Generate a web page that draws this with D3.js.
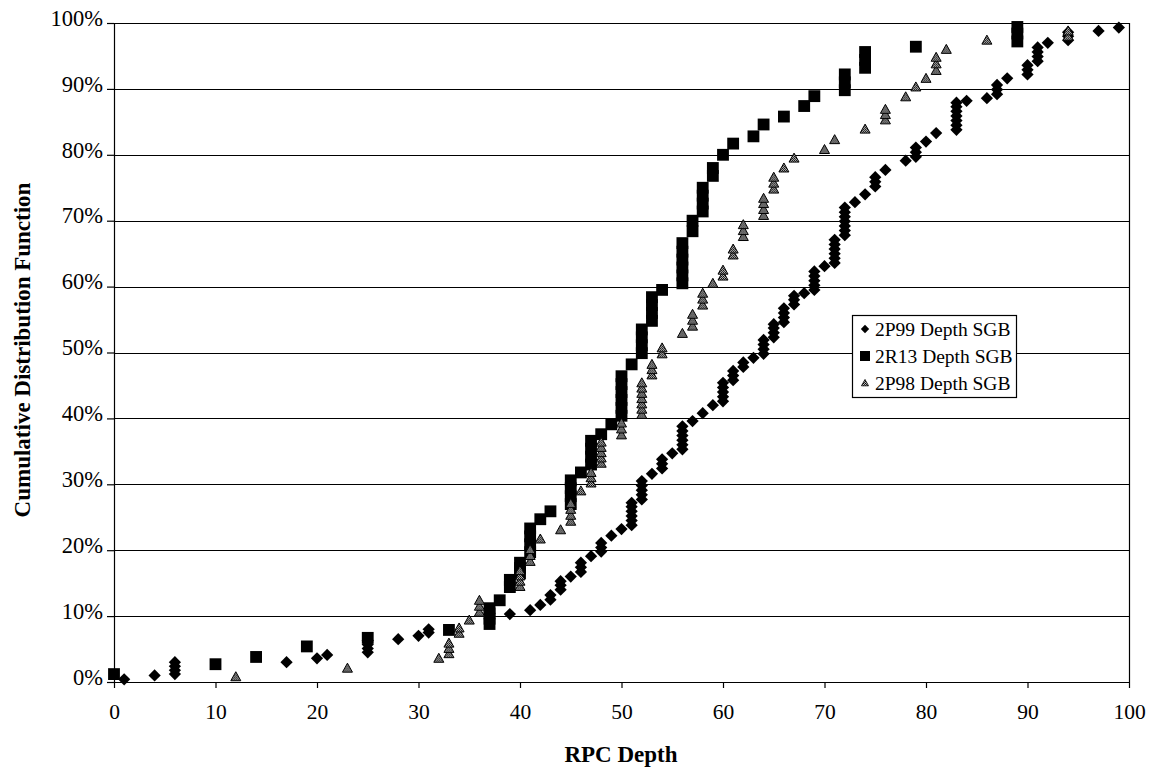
<!DOCTYPE html>
<html><head><meta charset="utf-8">
<script src="https://cdn.jsdelivr.net/npm/d3@7"></script>
<style>body{margin:0;background:#fff}svg{display:block}</style>
</head><body>
<svg id="chart" width="1155" height="772"></svg>
<script>
// ---- data ----
const xTicks = [0,10,20,30,40,50,60,70,80,90,100];
const yTicks = [0,10,20,30,40,50,60,70,80,90,100];
const xTitle = "RPC Depth";
const yTitle = "Cumulative Distribution Function";
const seriesNames = ["2P99 Depth SGB","2R13 Depth SGB","2P98 Depth SGB"];

// [RPC depth, cumulative %]
const data2P99 = [
[1,0.4],[4,1.0],[6,1.2],[6,1.8],[6,2.4],[6,3.0],
[17,3.0],[20,3.6],[21,4.1],
[25,4.5],[25,5.1],[25,5.7],[25,6.3],
[28,6.5],[30,7.0],[31,7.5],[31,8.0],
[39,10.3],[41,10.9],[42,11.7],[43,12.5],[43,13.2],
[44,14.0],[44,14.7],[44,15.3],[45,16.0],[46,16.7],[46,17.4],[46,18.1],
[47,19.1],[48,19.8],[48,20.4],[48,21.1],[49,22.2],[50,23.2],
[51,23.8],[51,24.5],[51,25.2],[51,25.9],[51,26.6],[51,27.2],
[52,27.7],[52,28.4],[52,29.1],[52,29.8],[52,30.5],
[53,31.6],[54,32.4],[54,33.1],[54,33.8],[55,34.7],
[56,35.3],[56,36.0],[56,36.7],[56,37.4],[56,38.1],[56,38.8],
[57,39.6],[58,40.8],[59,42.0],
[60,42.6],[60,43.3],[60,44.0],[60,44.7],[60,45.4],
[61,45.8],[61,46.5],[61,47.2],[62,47.8],[62,48.5],
[63,49.2],[64,49.8],[64,50.5],[64,51.2],[64,51.9],
[65,52.3],[65,53.0],[65,53.7],[65,54.3],
[66,54.6],[66,55.3],[66,56.0],[66,56.7],[67,57.3],[67,58.0],[67,58.6],
[68,59.0],[69,59.5],[69,60.2],[69,60.9],[69,61.6],[69,62.3],
[70,63.1],[71,63.6],[71,64.3],[71,65.0],[71,65.7],[71,66.4],[71,67.1],
[72,67.8],[72,68.5],[72,69.2],[72,69.9],[72,70.6],[72,71.3],[72,72.0],
[73,72.8],[74,74.0],[75,75.2],[75,75.9],[75,76.6],[76,77.7],
[78,79.1],[79,79.7],[79,80.4],[79,81.1],[80,82.0],[81,83.3],
[83,83.8],[83,84.5],[83,85.2],[83,85.9],[83,86.6],[83,87.3],[83,87.9],
[84,88.2],[86,88.6],[87,89.2],[87,89.9],[87,90.6],[88,91.6],
[90,92.2],[90,92.9],[90,93.6],[91,94.2],[91,94.9],[91,95.6],[91,96.3],[92,97.0],
[94,97.4],[94,98.0],[94,98.6],[97,98.8],[99,99.3]
];

const data2R13 = [
[0,1.2],[10,2.7],[14,3.8],[19,5.4],[25,6.7],[33,7.9],
[37,8.8],[37,9.6],[37,10.4],[37,11.2],[38,12.4],
[39,14.4],[39,15.5],[40,16.5],[40,17.3],[40,18.1],
[41,19.7],[41,20.9],[41,22.1],[41,23.3],[42,24.7],[43,25.9],
[45,27.0],[45,28.2],[45,29.4],[45,30.6],[46,31.8],
[47,33.0],[47,34.2],[47,35.4],[47,36.6],[48,37.6],[49,39.1],
[50,40.4],[50,41.6],[50,42.8],[50,44.0],[50,45.2],[50,46.4],[51,48.2],
[52,49.9],[52,51.1],[52,52.3],[52,53.5],
[53,54.8],[53,56.0],[53,57.2],[53,58.4],[54,59.5],
[56,60.5],[56,61.7],[56,62.9],[56,64.1],[56,65.3],[56,66.6],
[57,68.4],[57,70.0],
[58,71.4],[58,72.6],[58,73.8],[58,75.0],[59,76.8],[59,78.0],
[60,80.0],[61,81.7],[63,82.8],[64,84.6],[66,85.8],[68,87.4],[69,88.9],
[72,89.8],[72,91.0],[72,92.2],[74,93.2],[74,94.4],[74,95.6],
[79,96.4],[89,97.2],[89,98.4],[89,99.4]
];

const data2P98 = [
[12,0.8],[23,2.1],[32,3.6],[33,4.3],[33,5.1],[33,5.9],[34,7.4],[34,8.2],[35,9.4],
[36,10.6],[36,11.5],[36,12.4],
[40,14.5],[40,15.3],[40,16.1],[40,16.9],[41,18.3],[41,19.2],[41,20.1],[42,21.7],
[44,23.1],[45,24.4],[45,25.3],[45,26.2],[45,27.1],[46,29.0],
[47,30.2],[47,31.0],[47,31.8],
[48,33.2],[48,34.0],[48,34.8],[48,35.6],[48,36.4],
[50,37.5],[50,38.4],[50,39.3],
[52,40.6],[52,41.4],[52,42.2],[52,43.0],[52,43.8],[52,44.6],[52,45.4],
[53,46.6],[53,47.4],[53,48.2],[54,49.8],[54,50.7],
[56,52.9],[57,54.0],[57,54.9],[57,55.8],[58,57.2],[58,58.1],[58,59.0],
[59,60.5],[60,61.6],[60,62.5],[61,64.8],[61,65.7],
[62,67.6],[62,68.5],[62,69.4],
[64,70.8],[64,71.7],[64,72.6],[64,73.4],[65,74.8],[65,75.7],[65,76.6],
[66,78.0],[67,79.5],[70,80.8],[71,82.3],[74,83.9],
[76,85.3],[76,86.1],[76,86.9],[78,88.8],[79,90.3],[80,91.6],
[81,92.8],[81,93.8],[81,94.8],[82,96.0],[86,97.4],[94,98.0],[94,98.8]
];

// ---- drawing ----
const W = 1155, H = 772;
const FONT = "'Liberation Serif','Times New Roman',Times,serif";
const svg = d3.select("#chart");
svg.append("rect").attr("width", W).attr("height", H).attr("fill", "#fff");

const defs = svg.append("defs");
const pat = defs.append("pattern").attr("id","dots").attr("width",2).attr("height",2)
  .attr("patternUnits","userSpaceOnUse");
pat.append("rect").attr("width",2).attr("height",2).attr("fill","#bbb");
pat.append("rect").attr("width",1).attr("height",1).attr("fill","#000");
pat.append("rect").attr("x",1).attr("y",1).attr("width",1).attr("height",1).attr("fill","#222");

const x = d3.scaleLinear().domain([0,100]).range([114,1129]);
const y = d3.scaleLinear().domain([0,100]).range([682,23]);

// gridlines
svg.append("g").selectAll("line").data(yTicks.filter(d => d > 0)).join("line")
  .attr("x1", x(0)).attr("x2", x(100))
  .attr("y1", d => Math.round(y(d)) + 0.5).attr("y2", d => Math.round(y(d)) + 0.5)
  .attr("stroke", "#000").attr("stroke-width", 1.2);
// right border
svg.append("line").attr("x1", x(100)+0.5).attr("x2", x(100)+0.5)
  .attr("y1", y(100)).attr("y2", y(0)).attr("stroke","#000").attr("stroke-width",1.2);

// axes
const yAxis = d3.axisLeft(y).tickValues(yTicks).tickSize(7).tickSizeOuter(0)
  .tickPadding(4).tickFormat(d => d + "%");
const gy = svg.append("g").attr("transform", `translate(${x(0)},0)`).call(yAxis);
gy.selectAll("text").attr("font-family", FONT).attr("font-size", 22.5).attr("fill","#000").attr("dy","0.1em");

const xAxis = d3.axisBottom(x).tickValues(xTicks).tickSize(6).tickSizeOuter(0).tickPadding(16);
const gx = svg.append("g").attr("transform", `translate(0,${y(0)})`).call(xAxis);
gx.selectAll("text").attr("font-family", FONT).attr("font-size", 21.5).attr("fill","#000");
[gx, gy].forEach(g => {
  g.selectAll("path, line").attr("stroke", "#000").attr("stroke-width", 1.2);
});

// titles
svg.append("text").attr("x", 621).attr("y", 762).attr("text-anchor","middle")
  .attr("font-family", FONT).attr("font-size", 23).attr("font-weight","bold").text(xTitle);
svg.append("text").attr("transform","translate(30,350) rotate(-90)").attr("text-anchor","middle")
  .attr("font-family", FONT).attr("font-size", 23).attr("font-weight","bold").text(yTitle);

// marker types
const diamondType = { draw(ctx, s) { const r = Math.sqrt(s) / 2;
  ctx.moveTo(0,-r); ctx.lineTo(r,0); ctx.lineTo(0,r); ctx.lineTo(-r,0); ctx.closePath(); } };
const squareType = { draw(ctx, s) { const r = Math.sqrt(s) / 2;
  ctx.moveTo(-r,-r); ctx.lineTo(r,-r); ctx.lineTo(r,r); ctx.lineTo(-r,r); ctx.closePath(); } };
const triType = { draw(ctx, s) { const r = Math.sqrt(s) / 2;
  ctx.moveTo(0,-r); ctx.lineTo(r,r*0.8); ctx.lineTo(-r,r*0.8); ctx.closePath(); } };

const series = [
  { name: seriesNames[0], data: data2P99, type: diamondType, size: 150, fill: "#000", stroke: "none" },
  { name: seriesNames[1], data: data2R13, type: squareType, size: 140, fill: "#000", stroke: "none" },
  { name: seriesNames[2], data: data2P98, type: triType, size: 100, fill: "url(#dots)", stroke: "#000" }
];

series.forEach(s => {
  const sym = d3.symbol().type(s.type).size(s.size);
  svg.append("g").selectAll("path").data(s.data).join("path")
    .attr("transform", d => `translate(${x(d[0])},${y(d[1])})`)
    .attr("d", sym).attr("fill", s.fill).attr("stroke", s.stroke).attr("stroke-width", 1);
});

// legend
const lg = svg.append("g");
lg.append("rect").attr("x", 852.5).attr("y", 315.5).attr("width", 164).attr("height", 82)
  .attr("fill", "#fff").attr("stroke", "#000").attr("stroke-width", 1.2);
const legendSizes = [70, 100, 50];
series.forEach((s, i) => {
  const cy = 329 + i * 27;
  lg.append("path").attr("transform", `translate(865,${cy})`)
    .attr("d", d3.symbol().type(s.type).size(legendSizes[i]))
    .attr("fill", s.fill).attr("stroke", s.stroke).attr("stroke-width", 0.8);
  lg.append("text").attr("x", 875).attr("y", cy).attr("dy", "0.35em")
    .attr("font-family", FONT).attr("font-size", 19.5).attr("fill", "#000").text(s.name);
});
</script>
</body></html>
